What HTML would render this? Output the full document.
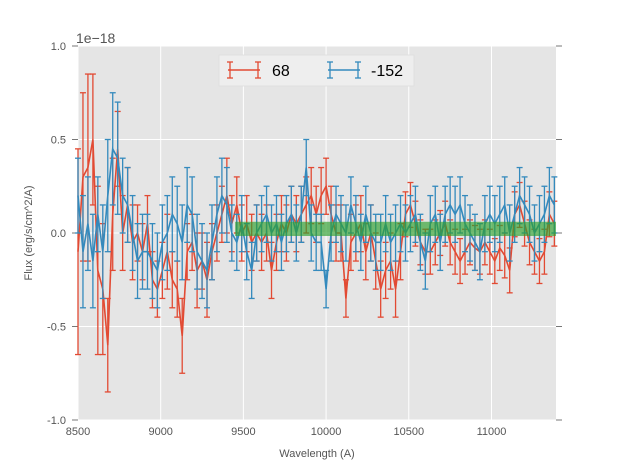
<!DOCTYPE html>
<html><head><meta charset="utf-8"><style>
body{margin:0;background:#fff;width:617px;height:467px;overflow:hidden;font-family:"Liberation Sans",sans-serif}
</style></head><body>
<svg id="chart" width="617" height="467" xmlns="http://www.w3.org/2000/svg" font-family="Liberation Sans, sans-serif">
</svg>
<script>
const redValues=[-0.1,0.3,0.35,0.5,-0.2,-0.3,-0.6,0.1,0.45,0.0,0.15,-0.05,0.0,-0.1,0.05,-0.25,-0.3,-0.2,-0.1,-0.25,-0.3,-0.55,-0.1,-0.05,-0.2,-0.15,-0.25,-0.1,0.0,0.1,0.2,0.05,0.15,0.0,0.05,-0.05,0.0,-0.05,0.0,-0.2,-0.05,0.05,0.0,0.1,0.05,0.1,0.15,0.2,0.1,0.2,0.25,0.1,0.0,0.0,-0.35,-0.05,0.0,0.05,-0.1,0.0,-0.15,-0.3,-0.2,-0.15,-0.3,-0.1,0.1,0.15,0.05,-0.05,-0.1,-0.1,-0.05,0.0,0.05,-0.05,-0.1,-0.15,-0.1,-0.05,-0.08,-0.1,-0.05,-0.1,-0.15,-0.08,-0.12,-0.2,0.1,0.15,0.05,-0.05,-0.1,-0.15,-0.1,0.1,0.05];
const redErrors=[0.55,0.45,0.5,0.35,0.45,0.35,0.25,0.3,0.2,0.2,0.2,0.2,0.15,0.15,0.15,0.15,0.15,0.15,0.2,0.15,0.15,0.2,0.15,0.15,0.2,0.15,0.2,0.15,0.15,0.15,0.2,0.15,0.15,0.15,0.15,0.15,0.15,0.15,0.15,0.15,0.15,0.15,0.15,0.15,0.15,0.15,0.15,0.15,0.15,0.15,0.15,0.15,0.15,0.15,0.1,0.15,0.15,0.15,0.15,0.15,0.15,0.15,0.15,0.15,0.15,0.15,0.12,0.12,0.12,0.12,0.12,0.12,0.12,0.12,0.12,0.12,0.12,0.12,0.12,0.12,0.12,0.12,0.12,0.12,0.12,0.12,0.12,0.12,0.12,0.12,0.12,0.12,0.12,0.12,0.12,0.12,0.12];
const blueValues=[0.2,-0.1,0.05,-0.15,0.1,-0.1,0.2,0.45,0.4,0.2,0.15,0.0,-0.15,-0.1,-0.1,-0.15,-0.2,-0.05,0.0,0.1,0.05,-0.05,0.15,0.1,-0.1,-0.15,-0.2,-0.05,0.1,0.2,0.15,0.0,-0.05,0.05,-0.1,-0.2,0.0,0.05,0.1,0.0,0.05,-0.05,0.05,0.1,0.0,0.1,0.35,0.0,-0.05,-0.05,-0.3,0.0,0.1,0.05,0.0,0.15,0.05,-0.05,0.1,0.0,-0.05,-0.05,0.05,-0.05,0.0,0.05,0.0,0.05,0.1,-0.05,-0.15,0.05,0.1,-0.05,0.1,0.15,0.1,0.15,0.05,0.0,-0.05,-0.1,0.05,0.1,0.05,0.1,0.15,0.0,0.1,0.2,0.15,0.1,0.0,0.05,0.1,0.2,0.15];
const blueErrors=[0.2,0.3,0.25,0.25,0.2,0.25,0.3,0.3,0.3,0.2,0.2,0.2,0.2,0.2,0.2,0.2,0.2,0.2,0.2,0.2,0.2,0.2,0.2,0.2,0.2,0.2,0.2,0.2,0.2,0.2,0.2,0.15,0.15,0.15,0.15,0.15,0.15,0.15,0.15,0.15,0.15,0.15,0.15,0.15,0.15,0.15,0.15,0.15,0.15,0.15,0.1,0.15,0.15,0.15,0.15,0.15,0.15,0.15,0.15,0.15,0.15,0.15,0.15,0.15,0.15,0.15,0.15,0.15,0.15,0.15,0.15,0.15,0.15,0.15,0.15,0.15,0.15,0.15,0.15,0.15,0.15,0.15,0.15,0.15,0.15,0.15,0.15,0.15,0.15,0.15,0.15,0.15,0.15,0.15,0.15,0.15,0.15];
const xStart=8500, xStep=30;
const xTicks=[8500,9000,9500,10000,10500,11000];
const xTickLabels=["8500","9000","9500","10000","10500","11000"];
const yTicks=[-1,-0.5,0,0.5,1];
const yTickLabels=["-1.0","-0.5","0.0","0.5","1.0"];
const band=[9450,11400,-0.016,0.06];

const L=78,R=556,T=46,B=420,XMIN=8500,XMAX=11390;
const sx=v=>L+(v-XMIN)/(XMAX-XMIN)*(R-L);
const sy=v=>T+(1-v)/2*(B-T);
const svg=document.getElementById('chart');
const NS="http://www.w3.org/2000/svg";
function mk(tag,attrs,parent){const e=document.createElementNS(NS,tag);for(const k in attrs)e.setAttribute(k,attrs[k]);(parent||svg).appendChild(e);return e;}

let e=mk('rect',{x:L,y:T,width:R-L,height:B-T,fill:'#e5e5e5'});


xTicks.forEach((t,i)=>{
  let g=mk('line',{x1:sx(t),x2:sx(t),y1:T,y2:B,stroke:'#fff','stroke-width':1});
  
  
  let tx=mk('text',{x:sx(t),y:B+15,'font-size':11,fill:'#555','text-anchor':'middle'});
  tx.textContent=xTickLabels[i];
  
  
});
yTicks.forEach((t,i)=>{
  let g=mk('line',{x1:L,x2:R,y1:sy(t),y2:sy(t),stroke:'#fff','stroke-width':1});
  
  
  mk('line',{x1:L-6,x2:L,y1:sy(t),y2:sy(t),stroke:'#777','stroke-width':1});
  mk('line',{x1:R,x2:R+6,y1:sy(t),y2:sy(t),stroke:'#777','stroke-width':1});
  let tx=mk('text',{x:L-12,y:sy(t)+4,'font-size':11,fill:'#555','text-anchor':'end'});
  tx.textContent=yTickLabels[i];
  
  
});
function series(vals,errs,color,name){
  const g=mk('g',{});
  
  
  vals.forEach((v,i)=>{
    const x=sx(xStart+i*xStep),e=errs[i];
    mk('line',{x1:x,x2:x,y1:sy(v+e),y2:sy(v-e),stroke:color,'stroke-width':1.3},g);
    mk('line',{x1:x-3,x2:x+3,y1:sy(v+e),y2:sy(v+e),stroke:color,'stroke-width':1.3},g);
    mk('line',{x1:x-3,x2:x+3,y1:sy(v-e),y2:sy(v-e),stroke:color,'stroke-width':1.3},g);
  });
  const pts=vals.map((v,i)=>sx(xStart+i*xStep).toFixed(1)+','+sy(v).toFixed(1)).join(' ');
  mk('polyline',{points:pts,fill:'none',stroke:color,'stroke-width':1.6},g);
}
series(redValues,redErrors,'#E24A33','series-68');
series(blueValues,blueErrors,'#348ABD','series-minus-152');
e=mk('rect',{x:sx(band[0]),y:sy(band[3]),width:R-sx(band[0]),height:sy(band[2])-sy(band[3]),fill:'#2ca02c','fill-opacity':0.65});



let t=mk('text',{x:76,y:43,'font-size':14,fill:'#555'});t.textContent='1e\u221218';


t=mk('text',{x:(L+R)/2,y:457,'font-size':11,fill:'#555','text-anchor':'middle'});t.textContent='Wavelength (A)';


t=mk('text',{x:0,y:0,'font-size':11,fill:'#555','text-anchor':'middle',transform:'translate(32,233) rotate(-90)'});t.textContent='Flux (erg/s/cm^2/A)';



const lg=mk('g',{});


mk('rect',{x:219,y:55,width:195,height:31,fill:'#eeeeee',stroke:'#ddd','stroke-width':0.8},lg);
[['#E24A33','68',228,272],['#348ABD','-152',328,371]].forEach(([c,l,x0,tx])=>{
  const y=70;
  const en=mk('g',{},lg);
  
  
  mk('line',{x1:x0,x2:x0+32,y1:y,y2:y,stroke:c,'stroke-width':1.6},en);
  mk('line',{x1:x0+2,x2:x0+2,y1:y-8,y2:y+8,stroke:c,'stroke-width':1.3},en);
  mk('line',{x1:x0+30,x2:x0+30,y1:y-8,y2:y+8,stroke:c,'stroke-width':1.3},en);
  [x0+2,x0+30].forEach(xx=>{mk('line',{x1:xx-3,x2:xx+3,y1:y-8,y2:y-8,stroke:c,'stroke-width':1.3},en);mk('line',{x1:xx-3,x2:xx+3,y1:y+8,y2:y+8,stroke:c,'stroke-width':1.3},en);});
  const tt=mk('text',{x:tx,y:y+6,'font-size':16,fill:'#000'},en);tt.textContent=l;
});
</script>
</body></html>
